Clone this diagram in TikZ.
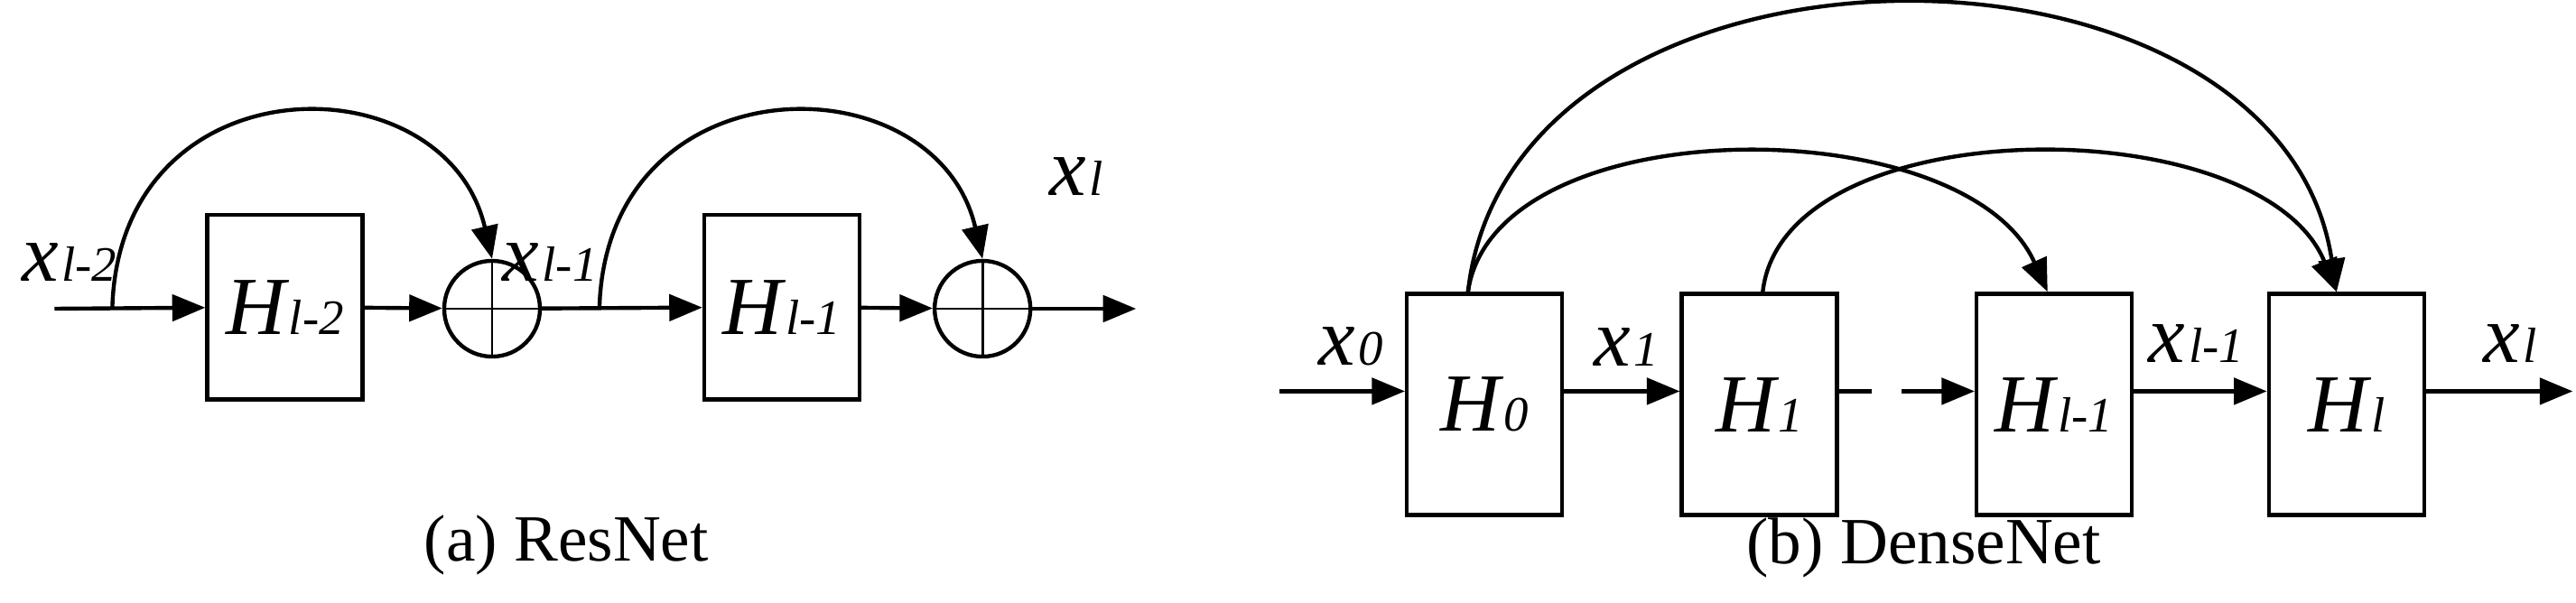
\documentclass[tikz,border=0pt]{standalone}
\usepackage{fontspec}
\setmainfont{Liberation Serif}
\usetikzlibrary{arrows.meta,positioning}
\tikzset{
  block/.style={draw,line width=1.2pt,minimum width=47pt,inner sep=0pt},
  adder/.style={draw,circle,line width=1.2pt,minimum size=29pt,inner sep=0pt},
  flow/.style={line width=1.2pt,-{Triangle[length=10pt,width=8pt]}},
  lbl/.style={font=\fontsize{25}{27}\selectfont\itshape,inner sep=0pt},
  caption/.style={font=\fontsize{20}{22}\selectfont,inner sep=0pt}
}
\newcommand{\blk}[1]{\fontsize{25}{27}\selectfont\itshape H\kern1pt{\fontsize{15}{17}\selectfont#1}}
\newcommand{\xv}[1]{x\kern1pt{\fontsize{15}{17}\selectfont#1}}
\begin{document}
\begin{tikzpicture}[x=0.5pt,y=0.5pt]
\path[use as bounding box,fill=white] (0,0) rectangle (1560,365);
% ResNet
\coordinate (rin) at (33,178);
\coordinate (rsplit1) at (68,178);
\node[block,minimum height=56pt] (h2) at (172.5,179) {\blk{l-2}};
\node[adder] (c1) at (298,178) {};
\coordinate (rsplit2) at (363,178);
\node[block,minimum height=56pt] (h1) at (473.5,179) {\blk{l-1}};
\node[adder] (c2) at (595,178) {};
\coordinate (rout) at (688,178);
\draw[line width=0.8pt] (c1.north) -- (c1.south) (c1.west) -- (c1.east);
\draw[line width=0.8pt] (c2.north) -- (c2.south) (c2.west) -- (c2.east);
\draw[flow] (rin) -- (h2);
\draw[flow] (h2) -- (c1);
\draw[flow] (c1) -- (h1);
\draw[flow] (h1) -- (c2);
\draw[flow] (c2) -- (rout);
\draw[flow] (rsplit1) .. controls (72,330) and (270,330) .. (c1.north);
\draw[flow] (rsplit2) .. controls (367,330) and (567,330) .. (c2.north);
\node[lbl] (xa) at (42,206) {\xv{l-2}};
\node[lbl] (xb) at (333,206) {\xv{l-1}};
\node[lbl] (xc) at (652,258) {\xv{l}};
\node[caption] (capa) at (343,35) {(a) ResNet};
% DenseNet
\coordinate (din) at (775,128);
\node[block,minimum height=67pt] (d0) at (899,120) {\blk{0}};
\node[block,minimum height=67pt] (d1) at (1065.5,120) {\blk{1}};
\node[block,minimum height=67pt] (d2) at (1244,120) {\blk{l-1}};
\node[block,minimum height=67pt] (d3) at (1421,120) {\blk{l}};
\coordinate (dout) at (1558,128);
\draw[flow] (din) -- (d0.west |- din);
\draw[flow] (d0.east |- din) -- (d1.west |- din);
\draw[line width=1.2pt,dash pattern=on 10pt off 9pt] (d1.east |- din) -- ++(52,0) coordinate (dgap);
\draw[flow] (dgap) -- (d2.west |- din);
\draw[flow] (d2.east |- din) -- (d3.west |- din);
\draw[flow] (d3.east |- din) -- (dout);
\draw[flow] ([xshift=-5pt]d0.north) .. controls (905,300) and (1190,300) .. ([xshift=-2pt]d2.north);
\draw[flow] ([xshift=-5pt]d0.north) .. controls (915,420) and (1380,420) .. ([xshift=-3pt]d3.north);
\draw[flow] ([xshift=1pt]d1.north) .. controls (1080,300) and (1370,300) .. ([xshift=-3pt]d3.north);
\node[lbl] (x0) at (818,155) {\xv{0}};
\node[lbl] (x1) at (985,155) {\xv{1}};
\node[lbl] (x2) at (1330,157) {\xv{l-1}};
\node[lbl] (x3) at (1520,157) {\xv{l}};
\node[caption] (capb) at (1165,33) {(b) DenseNet};
\end{tikzpicture}
\end{document}
